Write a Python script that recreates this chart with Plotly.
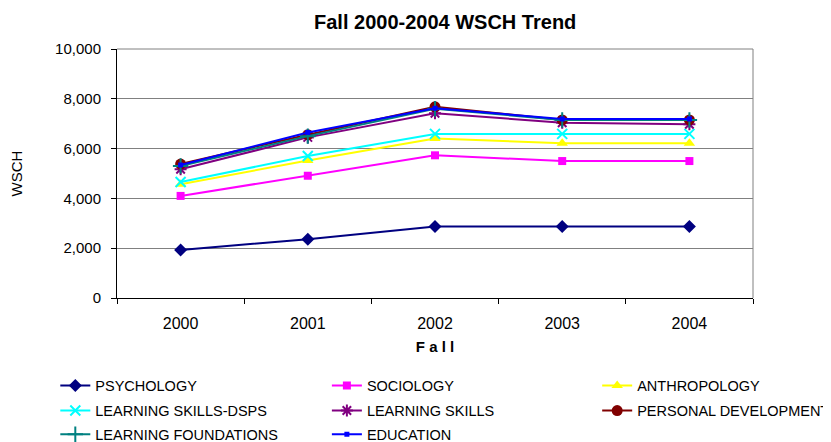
import plotly.graph_objects as go

years = ["2000", "2001", "2002", "2003", "2004"]
psychology = [1930, 2360, 2870, 2870, 2870]
sociology = [4100, 4910, 5730, 5500, 5500]
anthropology = [4570, 5520, 6410, 6210, 6210]
learning_skills_dsps = [4660, 5700, 6590, 6590, 6590]
learning_skills = [5170, 6450, 7420, 7040, 6980]
personal_development = [5380, 6560, 7680, 7150, 7150]
learning_foundations = [5300, 6500, 7600, 7150, 7150]
education = [5340, 6650, 7620, 7190, 7190]

series = [
    ("PSYCHOLOGY", psychology, "#000080", "diamond", 10, 0),
    ("SOCIOLOGY", sociology, "#FF00FF", "square", 8, 0),
    ("ANTHROPOLOGY", anthropology, "#FFFF00", "triangle-up", 10, 0),
    ("LEARNING SKILLS-DSPS", learning_skills_dsps, "#00FFFF", "x-thin-open", 10, 2),
    ("LEARNING SKILLS", learning_skills, "#800080", "asterisk-open", 10, 2),
    ("PERSONAL DEVELOPMENT", personal_development, "#800000", "circle", 11, 0),
    ("LEARNING FOUNDATIONS", learning_foundations, "#008080", "cross-thin-open", 11, 2),
    ("EDUCATION", education, "#0000FF", "square", 5, 0),
]

FONT = "Arial, 'Liberation Sans', sans-serif"

# the page body has an 8px default margin, so the figure is sized to fit the window
W, H = 823, 434

# legend layout: 3 columns x 3 rows (paper coords)
col_x = [-0.097, 0.330, 0.755]
row_y = [-0.287, -0.388, -0.483]

fig = go.Figure()
legend_layouts = {}
for i, (name, vals, color, sym, size, lw) in enumerate(series):
    key = "legend" if i == 0 else f"legend{i + 1}"
    fig.add_trace(go.Scatter(
        x=years, y=vals, name=name, mode="lines+markers",
        line=dict(color=color, width=2),
        marker=dict(symbol=sym, size=size, color=color,
                    line=dict(color=color, width=lw)),
        legend=key,
    ))
    legend_layouts[key] = dict(
        orientation="v", x=col_x[i % 3], xanchor="left",
        y=row_y[i // 3], yanchor="top",
        font=dict(size=14.5, family=FONT, color="black"),
        bgcolor="rgba(0,0,0,0)",
    )

fig.update_layout(
    width=W, height=H,
    margin=dict(l=109, r=78, t=41, b=144, autoexpand=False),
    paper_bgcolor="white", plot_bgcolor="white",
    font=dict(family=FONT, color="black", size=15),
    title=dict(text="<b>Fall 2000-2004 WSCH Trend</b>", x=0.516, xref="paper",
               xanchor="center", y=1 - 14 / H, yanchor="middle",
               font=dict(size=20, family=FONT, color="black")),
    showlegend=True,
    xaxis=dict(type="category", range=[-0.5, 4.5], tickson="boundaries",
               ticks="outside", ticklen=5, tickcolor="black",
               showline=True, linecolor="black", linewidth=1,
               showgrid=False, tickfont=dict(size=16), ticklabelstandoff=11,
               title=dict(text="<b>F a l l</b>", font=dict(size=15), standoff=10)),
    yaxis=dict(range=[0, 10000], dtick=2000, tickformat=",",
               ticks="outside", ticklen=5, tickcolor="black",
               showline=True, linecolor="black", linewidth=1,
               showgrid=True, gridcolor="#808080", gridwidth=1,
               tickfont=dict(size=15), zeroline=False, ticklabelstandoff=7,
               title=dict(text="WSCH", font=dict(size=15), standoff=28)),
    **legend_layouts,
)

fig.add_shape(type="line", xref="paper", yref="paper", x0=1, x1=1, y0=0, y1=1,
              line=dict(color="#808080", width=1), layer="below")
fig.add_shape(type="line", xref="paper", yref="paper", x0=0, x1=1, y0=1, y1=1,
              line=dict(color="#808080", width=1), layer="below")

fig.write_html("out.html")
